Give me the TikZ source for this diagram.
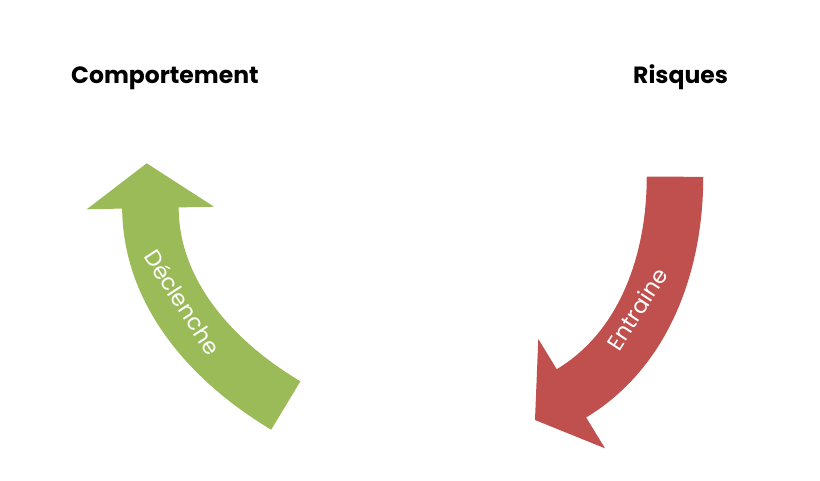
\documentclass[tikz,border=0pt]{standalone}
\usepackage{fontspec}
\setmainfont{Poppins}
\definecolor{arrgreen}{HTML}{9BBB59}
\definecolor{arrred}{HTML}{C0504D}
\begin{document}
\begin{tikzpicture}[x=1pt,y=-1pt,
  title/.style={font=\fontsize{23.5}{28}\selectfont\bfseries, text=black, inner sep=0pt},
  shaftline/.style={line width=56.5pt, line cap=butt},
  lbl/.style={font=\fontsize{22.5}{27}\selectfont, text=white, inner sep=0pt}]
\useasboundingbox (0,0) rectangle (820,480);
\fill[white] (0,0) rectangle (820,480);
% titles
\node[title, anchor=base west] (comp) at (71,83) {Comportement};
\node[title, anchor=base west] (risq) at (633,83) {Risques};
% green arrow
\draw[shaftline, arrgreen] (285.8,405.5) .. controls (213,362) and (151,294) .. (150.4,208) -- (150.3,203);
\fill[arrgreen] (86.7,209.3) -- (146.7,163.3) -- (214,206.7) -- cycle;
\node[lbl, rotate=-57] (decl) at (183,302) {Déclenche};
% red arrow
\draw[shaftline, arrred] (675,176.7) .. controls (675,261.6) and (645.1,348.1) .. (572.8,392.5) -- (569.4,394.6);
\fill[arrred] (538.3,339) -- (535,420) -- (605,448.3) -- cycle;
\node[lbl, rotate=57] (entr) at (637,309) {Entraine};
\end{tikzpicture}
\end{document}
